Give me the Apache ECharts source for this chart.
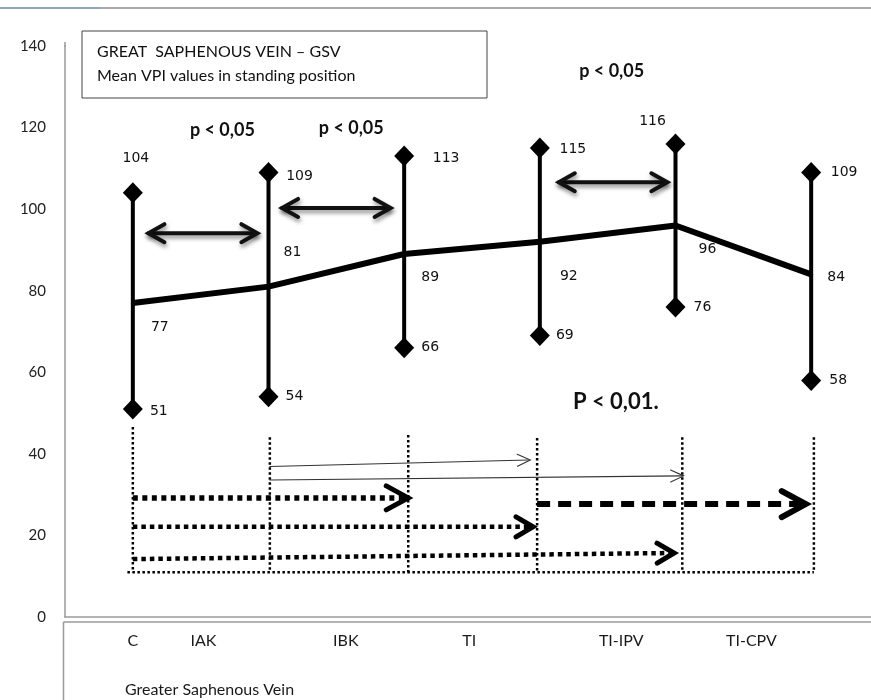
<!DOCTYPE html>
<html>
<head>
<meta charset="utf-8">
<script src="https://cdn.jsdelivr.net/npm/echarts@6/dist/echarts.min.js"></script>
<style>html,body{margin:0;padding:0;background:#fff;}#chart{width:871px;height:700px;}</style>
</head>
<body>
<div id="chart"></div>
<script>
// ---- data ----
const categories = ['C', 'IAK', 'IBK', 'TI', 'TI-IPV', 'TI-CPV'];
const maxValues  = [104, 109, 113, 115, 116, 109];
const meanValues = [77, 81, 89, 92, 96, 84];
const minValues  = [51, 54, 66, 69, 76, 58];
const yAxisMin = 0, yAxisMax = 140, yAxisStep = 20;
const titleLines = ['GREAT  SAPHENOUS VEIN \u2013 GSV', 'Mean VPI values in standing position'];
const xAxisTitle = 'Greater Saphenous Vein';
const pTexts = ['p < 0,05', 'p < 0,05', 'p < 0,05', 'P < 0,01.'];

// ---- annotation layout (data coordinates: category index, value) ----
const pTextAt = [[0.66, 119.4], [1.61, 119.9], [3.53, 133.9], [3.56, 52.7]];
const labelPos = [0, 0.52, 1.57, 2.48, 3.6, 4.56];
const dividers = [[0, 46.6, 11], [1.01, 44.1, 11], [2.03, 44.6, 11], [2.98, 43.9, 11], [4.05, 44.1, 11], [5.02, 44.1, 11]];
const arrows = [
  // double-headed comparison arrows
  {x1: 0.115, y1: 94.1, x2: 0.918, y2: 94.1, kind: 'double'},
  {x1: 1.10, y1: 100.3, x2: 1.90, y2: 100.3, kind: 'double'},
  {x1: 3.14, y1: 106.6, x2: 3.94, y2: 106.6, kind: 'double'},
  // thin arrows
  {x1: 1.01, y1: 36.9, x2: 2.93, y2: 38.5, kind: 'thin'},
  {x1: 1.01, y1: 33.6, x2: 4.06, y2: 34.6, kind: 'thin'},
  // thick dotted arrows
  {x1: 0, y1: 29.2, x2: 2.03, y2: 29.2, kind: 'dotBig'},
  {x1: 0, y1: 22.1, x2: 2.95, y2: 22.1, kind: 'dot'},
  {x1: 0, y1: 14.2, x2: 3.99, y2: 15.7, kind: 'dot'},
  // dashed arrow
  {x1: 2.98, y1: 27.7, x2: 4.96, y2: 27.7, kind: 'dash'},
  // bottom dotted baseline
  {x1: -0.04, y1: 11, x2: 5.02, y2: 11, kind: 'base'}
];
const arrowStyles = {
  double: {lw: 4, dash: null, head: 'both', L: 16, H: 9, hw: 4, shadow: true, color: '#111'},
  thin:   {lw: 1.1, dash: null, head: 'end', L: 13, H: 6, hw: 1.1, color: '#333'},
  dotBig: {lw: 5.5, dash: [5, 4.5], head: 'end', L: 22, H: 12, hw: 5, color: '#000'},
  dot:    {lw: 4.5, dash: [4.5, 4], head: 'end', L: 17, H: 10, hw: 5, color: '#000'},
  dash:   {lw: 6, dash: [13, 8], head: 'end', L: 24, H: 13, hw: 6, color: '#000'},
  base:   {lw: 2.5, dash: [2.5, 2.5], head: 'none', color: '#000'}
};

// label offsets (pixels) for data labels
const meanLabelOffset = [[27, 24], [24, -34], [26, 23], [29, 35], [32, 24], [25, 3]];
const maxLabelOffset  = [[3, -34], [31, 4], [42, 2], [33, 1], [-23, -23], [33, 0]];
const minLabelOffset  = [[26, 2], [26, 0], [26, 0], [25, 0], [27, 0], [27, 0]];

const chart = echarts.init(document.getElementById('chart'), null, {renderer: 'canvas'});

const dataFont = {color: '#111', fontFamily: 'DejaVu Sans', fontSize: 14};

function chevron(tip, dir, L, H) {
  const nx = -dir[1], ny = dir[0];
  const bx = tip[0] - dir[0] * L, by = tip[1] - dir[1] * L;
  return [[bx + nx * H, by + ny * H], [tip[0], tip[1]], [bx - nx * H, by - ny * H]];
}

const option = {
  animation: false,
  backgroundColor: '#fff',
  grid: {left: 65, top: 46, width: 814, height: 571, containLabel: false, outerBoundsMode: 'none'},
  xAxis: {
    type: 'value', min: -0.5, max: 5.5,
    axisLine: {show: true, onZero: false, lineStyle: {color: '#9a9a9a', width: 1.5}},
    axisTick: {show: false},
    splitLine: {show: false},
    axisLabel: {
      show: true,
      customValues: labelPos,
      margin: 16,
      color: '#1a1a1a', fontFamily: 'Lato', fontSize: 16,
      formatter: function (v) {
        let best = 0, bd = 1e9;
        labelPos.forEach(function (p, i) { const d = Math.abs(p - v); if (d < bd) { bd = d; best = i; } });
        return bd < 0.01 ? categories[best] : '';
      }
    }
  },
  yAxis: {
    type: 'value', min: yAxisMin, max: yAxisMax, interval: yAxisStep,
    axisLine: {show: true, onZero: false, lineStyle: {color: '#9a9a9a', width: 1.5}},
    axisTick: {show: false},
    splitLine: {show: false},
    axisLabel: {margin: 19, color: '#222', fontFamily: 'Lato', fontSize: 15}
  },
  graphic: [
    {type: 'line', shape: {x1: 0, y1: 8, x2: 871, y2: 8}, style: {stroke: '#8c8c8c', lineWidth: 1.5}},
    {type: 'line', shape: {x1: 0, y1: 8, x2: 100, y2: 8}, style: {stroke: '#8da6c9', lineWidth: 1.5}},
    {type: 'line', shape: {x1: 63.5, y1: 622, x2: 871, y2: 622}, style: {stroke: '#9a9a9a', lineWidth: 1.5}},
    {type: 'line', shape: {x1: 63.5, y1: 622, x2: 63.5, y2: 700}, style: {stroke: '#9a9a9a', lineWidth: 1.5}},
    {type: 'line', shape: {x1: 65, y1: 42, x2: 65, y2: 47}, style: {stroke: '#9a9a9a', lineWidth: 1.5}},
    {type: 'rect', shape: {x: 82, y: 31, width: 405, height: 67}, style: {fill: '#fff', stroke: '#444', lineWidth: 1}},
    {type: 'text', x: 97, y: 52, style: {text: titleLines[0], fill: '#111', font: '16px Lato', textVerticalAlign: 'middle'}},
    {type: 'text', x: 97, y: 76, style: {text: titleLines[1], fill: '#111', font: '16px Lato', textVerticalAlign: 'middle'}},
    {type: 'text', x: 125, y: 690, style: {text: xAxisTitle, fill: '#1a1a1a', font: '16px Lato', textVerticalAlign: 'middle'}}
  ],
  series: [
    {
      name: 'dividers', type: 'custom', z: 1, silent: true,
      data: dividers,
      renderItem: function (params, api) {
        const p1 = api.coord([api.value(0), api.value(1)]);
        const p2 = api.coord([api.value(0), api.value(2)]);
        return {type: 'line', shape: {x1: p1[0], y1: p1[1], x2: p2[0], y2: p2[1]},
                style: {stroke: '#000', lineWidth: 2.5, lineDash: [2.5, 2.5]}};
      }
    },
    {
      name: 'arrows', type: 'custom', z: 2, silent: true,
      data: arrows.map(function (a) { return [a.x1, a.y1, a.x2, a.y2]; }),
      renderItem: function (params, api) {
        const a = arrows[params.dataIndex];
        const s = arrowStyles[a.kind];
        const p1 = api.coord([api.value(0), api.value(1)]);
        const p2 = api.coord([api.value(2), api.value(3)]);
        const dx = p2[0] - p1[0], dy = p2[1] - p1[1];
        const len = Math.sqrt(dx * dx + dy * dy);
        const d = [dx / len, dy / len];
        const shadow = s.shadow ? {shadowBlur: 4, shadowColor: 'rgba(0,0,0,0.45)', shadowOffsetX: 1, shadowOffsetY: 3} : {};
        const children = [{
          type: 'line',
          shape: {x1: p1[0], y1: p1[1], x2: p2[0] - d[0] * (s.head === 'none' ? 0 : 2), y2: p2[1] - d[1] * (s.head === 'none' ? 0 : 2)},
          style: Object.assign({stroke: s.color, lineWidth: s.lw, lineDash: s.dash || null, lineCap: s.dash ? 'butt' : 'round'}, shadow)
        }];
        if (s.head === 'end' || s.head === 'both') {
          children.push({type: 'polyline', shape: {points: chevron(p2, d, s.L, s.H)},
            style: Object.assign({stroke: s.color, lineWidth: s.hw, fill: null, lineJoin: 'miter', lineCap: 'round'}, shadow)});
        }
        if (s.head === 'both') {
          children.push({type: 'polyline', shape: {points: chevron(p1, [-d[0], -d[1]], s.L, s.H)},
            style: Object.assign({stroke: s.color, lineWidth: s.hw, fill: null, lineJoin: 'miter', lineCap: 'round'}, shadow)});
        }
        return {type: 'group', children: children};
      }
    },
    {
      name: 'range', type: 'custom', z: 3, silent: true,
      data: categories.map(function (c, i) { return [i, maxValues[i], minValues[i]]; }),
      renderItem: function (params, api) {
        const p1 = api.coord([api.value(0), api.value(1)]);
        const p2 = api.coord([api.value(0), api.value(2)]);
        return {type: 'line', shape: {x1: p1[0], y1: p1[1], x2: p2[0], y2: p2[1]},
                style: {stroke: '#000', lineWidth: 4}};
      }
    },
    {
      name: 'Mean', type: 'line', z: 4,
      data: meanValues.map(function (v, i) { return {value: [i, v], label: {offset: meanLabelOffset[i]}}; }),
      symbol: 'circle', symbolSize: 4, itemStyle: {color: '#000', opacity: 1},
      lineStyle: {color: '#000', width: 6},
      label: Object.assign({show: true, position: 'inside'}, dataFont)
    },
    {
      name: 'Max', type: 'scatter', z: 5,
      data: maxValues.map(function (v, i) { return {value: [i, v], label: {offset: maxLabelOffset[i]}}; }),
      symbol: 'diamond', symbolSize: [20, 21], itemStyle: {color: '#000', opacity: 1},
      label: Object.assign({show: true, position: 'inside', formatter: function (p) { return p.value[1]; }}, dataFont)
    },
    {
      name: 'Min', type: 'scatter', z: 5,
      data: minValues.map(function (v, i) { return {value: [i, v], label: {offset: minLabelOffset[i]}}; }),
      symbol: 'diamond', symbolSize: [20, 21], itemStyle: {color: '#000', opacity: 1},
      label: Object.assign({show: true, position: 'inside', formatter: function (p) { return p.value[1]; }}, dataFont)
    },
    {
      name: 'pvalues', type: 'scatter', z: 6, silent: true,
      data: pTextAt.map(function (p, i) { return {value: p, label: {fontSize: i === 3 ? 22 : 18}}; }),
      symbolSize: 0, itemStyle: {opacity: 1},
      label: {show: true, position: 'inside', color: '#111', fontFamily: 'Lato', fontWeight: 'bold',
              formatter: function (p) { return pTexts[p.dataIndex]; }}
    }
  ]
};
chart.setOption(option);
</script>
</body>
</html>
